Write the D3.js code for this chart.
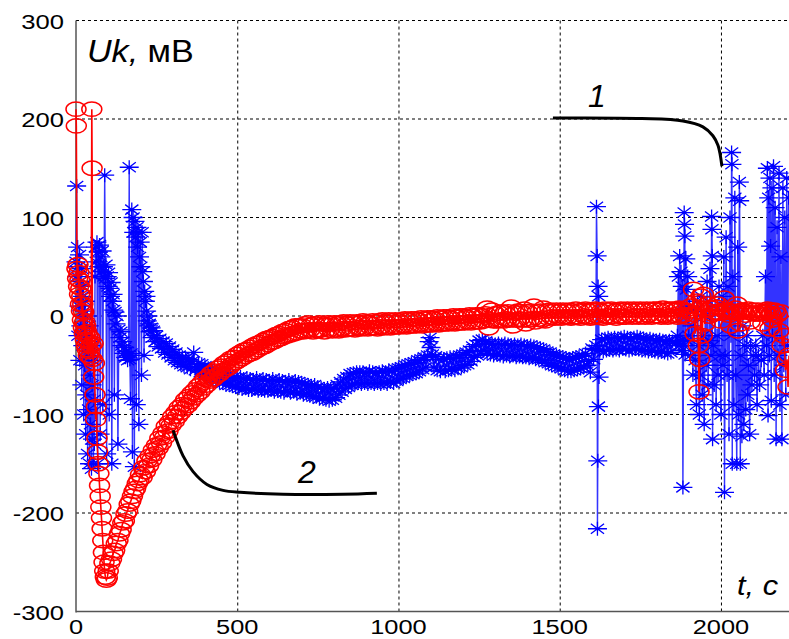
<!DOCTYPE html>
<html>
<head>
<meta charset="utf-8">
<script src="https://cdnjs.cloudflare.com/ajax/libs/d3/7.8.5/d3.min.js"></script>
<style>
  body { margin: 0; background: #fff; }
  svg { display: block; }
</style>
</head>
<body>
<script>
'use strict';

//axis ticks
var xTicks = [0, 500, 1000, 1500, 2000];
var yTicks = [-300, -200, -100, 0, 100, 200, 300];

//series 1 (blue, *) : [t, Uk]
var blueSeries = [
  [0,55],[2,132],[3,40],[5,70],[6,-20],[8,50],[9,10],[11,62],[12,-45],[14,35],[15,-10],[17,48],[18,-70],[20,20],[21,-30],[23,30],[24,-100],[26,5],[27,-50],[29,15],[30,-120],[32,-20],[33,-80],[35,0],[36,-140],[38,-40],[39,-95],[41,-10],[42,-150],[44,-60],[45,-110],[47,-30],[48,-155],[50,-70],[51,-125],[53,-45],[54,-150],[56,-85],[57,-130],
  [59,40],[61,70],[63,55],[65,75],[67,-150],[69,65],[71,50],[73,72],[75,-120],[77,60],[79,45],[81,66],[83,-90],[85,50],[87,40],[89,143],[91,38],[93,52],[95,-140],[97,40],[99,30],[101,44],[103,-100],[105,28],[107,20],[109,34],[111,-150],[113,15],[115,22],[117,6],[119,-80],[121,4],[124,-8],[127,0],[130,-130],[133,-14],[136,-22],[139,-16],[142,-30],[145,-26],[148,-38],[151,-32],[154,-42],[157,-36],[160,-45],[163,-40],
  [165,151],[167,-44],[169,-84],[171,-38],[173,108],[175,-138],[177,100],[179,85],[181,-153],[183,96],[185,80],[187,-90],[189,90],[191,70],[193,85],[195,-110],[197,60],[199,75],[201,50],[203,-60],[205,85],[207,45],[209,35],[211,-40],[213,25],[215,15],[217,20],[219,5],[221,-5],[223,0],[225,-10],[227,-8],[230,-16],[233,-12],[236,-22],
  [240,-15],[245,-26],[250,-20],[255,-31],[260,-23],[265,-33],[270,-26],[275,-37],[280,-28],[285,-39],
  [290,-31],[295,-42],[300,-34],[305,-45],[310,-37],[315,-47],[320,-40],[325,-49],[330,-42],[335,-51],
  [340,-43],[345,-52],[350,-44],[355,-54],[360,-46],[365,-37],[370,-55],[375,-52],[380,-48],[385,-57],
  [390,-49],[395,-59],[400,-51],[405,-60],[410,-53],[415,-62],[420,-54],[425,-64],[430,-56],[435,-65],
  [440,-57],[445,-67],[450,-58],[455,-68],[460,-59],[465,-70],[470,-60],[475,-70],[480,-61],[485,-71],
  [490,-62],[495,-72],[500,-63],[505,-73],[510,-62],[515,-74],[520,-64],[525,-73],[530,-63],[535,-75],
  [540,-64],[545,-75],[550,-65],[555,-74],[560,-63],[565,-76],[570,-65],[575,-75],[580,-64],[585,-76],
  [590,-65],[595,-76],[600,-66],[605,-75],[610,-64],[615,-77],[620,-66],[625,-76],[630,-65],[635,-77],
  [640,-66],[645,-78],[650,-67],[655,-76],[660,-65],[665,-78],[670,-67],[675,-77],[680,-66],[685,-79],
  [690,-67],[695,-78],[700,-68],[705,-80],[710,-69],[715,-79],[720,-70],[725,-81],[730,-71],[735,-82],
  [740,-70],[745,-82],[750,-72],[755,-84],[760,-73],[765,-83],[770,-74],[775,-85],[780,-73],[785,-86],
  [790,-74],[795,-85],[800,-73],[805,-83],[810,-70],[815,-80],[820,-67],[825,-77],[830,-64],[835,-74],
  [840,-62],[845,-72],[850,-59],[855,-70],[860,-58],[865,-69],[870,-57],[875,-68],[880,-57],[885,-69],
  [890,-57],[895,-68],[900,-58],[905,-69],[910,-56],[915,-68],[920,-57],[925,-69],[930,-58],[935,-68],
  [940,-57],[945,-69],[950,-56],[955,-68],[960,-57],[965,-69],[970,-55],[975,-67],[980,-56],[985,-68],
  [990,-54],[995,-66],[1000,-53],[1005,-64],[1010,-52],[1015,-63],[1020,-50],[1025,-61],[1030,-49],[1035,-60],
  [1040,-48],[1045,-59],[1050,-47],[1055,-58],[1060,-45],[1065,-56],[1070,-44],[1075,-54],[1080,-42],[1085,-52],
  [1090,-40],[1095,-26],[1098,-22],[1101,-32],[1105,-39],[1110,-52],[1115,-41],[1120,-55],[1125,-44],[1130,-56],
  [1140,-44],[1145,-56],[1150,-43],[1155,-55],[1160,-42],[1165,-54],[1170,-43],[1175,-55],[1180,-42],[1185,-53],
  [1190,-40],[1195,-52],[1200,-39],[1205,-50],[1210,-37],[1215,-49],[1220,-35],[1225,-46],[1230,-31],[1235,-42],
  [1240,-29],[1245,-40],[1250,-25],[1255,-36],[1260,-24],[1265,-35],[1270,-26],[1275,-38],[1280,-28],[1285,-39],
  [1290,-28],[1295,-40],[1300,-29],[1305,-39],[1310,-28],[1315,-40],[1320,-29],[1325,-41],[1330,-28],[1335,-40],
  [1340,-29],[1345,-41],[1350,-30],[1355,-40],[1360,-29],[1365,-42],[1370,-30],[1375,-41],[1380,-29],[1385,-42],
  [1390,-30],[1395,-42],[1400,-31],[1405,-43],[1410,-30],[1415,-42],[1420,-31],[1425,-44],[1430,-32],[1435,-44],
  [1440,-33],[1445,-45],[1450,-34],[1455,-47],[1460,-36],[1465,-48],[1470,-37],[1475,-50],[1480,-39],[1485,-51],
  [1490,-40],[1495,-52],[1500,-41],[1505,-53],[1510,-42],[1515,-55],[1520,-43],[1525,-56],[1530,-44],[1535,-56],
  [1540,-43],[1545,-55],[1550,-42],[1555,-54],[1560,-41],[1565,-53],[1570,-40],[1575,-52],[1580,-38],[1585,-50],
  [1590,-46],[1595,-57],[1600,-33],[1605,-44],[1610,-34],
  [1612,-30],[1614,111],[1616,61],[1617,-216],[1618,-147],[1619,30],[1620,-92],[1621,20],[1622,-62],[1624,-35],
  [1630,-24],[1635,-36],[1640,-23],[1645,-35],[1650,-22],[1655,-34],[1660,-23],[1665,-35],[1670,-22],[1675,-34],
  [1680,-23],[1685,-35],[1690,-22],[1695,-33],[1700,-21],[1705,-34],[1710,-22],[1715,-35],[1720,-23],[1725,-34],
  [1730,-22],[1735,-33],[1740,-21],[1745,-34],[1750,-22],[1755,-35],[1760,-23],[1765,-35],[1770,-24],[1775,-36],
  [1780,-23],[1785,-35],[1790,-24],[1795,-36],[1800,-25],[1805,-37],[1810,-24],[1815,-36],[1820,-25],[1825,-37],
  [1830,-26],[1835,-38],[1840,-25],[1845,-37],[1850,-26],
  [1860,-28],[1865,-20],[1868,40],[1870,-30],[1872,61],[1874,-25],[1876,45],[1878,-35],[1880,30],[1882,-174],[1884,-30],[1886,105],[1887,93],[1888,81],[1889,-39],[1891,58],[1893,27],[1895,-25],[1897,40],[1900,-20],[1903,10],[1906,-40],[1910,-10],[1913,-60],[1916,5],[1920,-45],[1924,-90],[1927,15],[1930,-30],[1933,-100],[1936,-60],[1939,20],[1942,-80],[1945,-20],[1948,-110],[1951,0],[1954,-50],[1957,35],[1960,-70],[1963,-25],[1966,48],[1969,-40],[1971,101],[1972,88],[1973,61],[1974,-125],[1976,-30],[1979,-70],[1982,10],[1985,-90],[1988,-20],[1991,-60],[1994,30],[1997,-40],[2000,-100],[2003,20],[2006,-50],[2009,60],[2011,-179],[2013,-40],[2016,80],[2019,-60],[2022,30],[2025,-120],[2028,100],[2031,-20],[2033,166],[2034,154],[2035,-150],[2037,40],[2040,-90],[2043,120],[2046,-60],[2049,-150],[2052,70],[2055,-100],[2057,136],[2058,117],[2060,-150],[2062,-40],[2065,-122],[2068,-10],[2071,-110],[2074,-30],[2077,-95],[2080,-20],[2083,-80],[2086,-50],[2089,-120],[2092,-30],[2096,-70],[2100,-40],[2104,-60],[2108,-30],[2112,-90],[2116,-40],[2120,-70],[2125,-45],[2130,-20],[2134,-60],[2138,40],[2141,-30],[2144,150],[2146,-101],[2148,120],[2150,-40],[2152,140],[2154,71],[2156,-86],[2158,130],[2160,-20],[2163,152],[2165,-60],[2168,110],[2171,-125],[2174,90],[2177,-40],[2180,145],[2183,-90],[2186,60],[2189,-125],[2192,130],[2195,-50],[2198,100],[2201,-80],[2204,140],[2207,-30],[2210,120]
];

//series 2 (red, o) : [t, Uk]
var redSeries = [
  [0,210],[1,193],[3,48],[5,38],[6,52],[8,30],[9,44],[11,22],[12,36],[14,12],[15,28],[17,5],[18,20],[20,-4],[21,12],[23,-12],[24,4],[26,-18],[27,-6],[29,-24],[30,-10],[32,-30],[33,-16],[35,-34],[36,-20],[38,-40],[39,-26],[41,-36],[43,-22],[45,-42],[47,-30],[49,210],[50,150],[51,-44],[53,-28],[55,-62],[57,-48],[59,-80],[61,-105],[63,-92],[65,-124],[67,-138],[69,-150],[71,-160],[73,-172],[75,-183],[77,-194],[79,-205],[81,-216],[83,-228],[85,-240],[87,-250],[89,-259],[91,-265],[94,-268],[97,-266],
  [100,-259],[105,-251],[110,-247],[115,-241],[120,-238],[125,-231],[130,-228],[135,-221],[140,-217],[145,-210],[150,-208],[155,-201],[160,-198],[165,-191],[170,-188],[175,-183],[180,-178],[185,-175],[190,-170],[195,-167],
  [200,-161],[205,-164],[210,-154],[215,-158],[220,-147],[225,-152],[230,-142],[235,-146],[240,-136],[245,-140],
  [250,-131],[255,-134],[260,-124],[265,-129],[270,-119],[275,-123],[280,-112],[285,-117],[290,-108],[295,-111],
  [300,-102],[305,-107],[310,-98],[315,-102],[320,-93],[325,-98],[330,-90],[335,-94],[340,-85],[345,-91],
  [350,-82],[355,-87],[360,-78],[365,-83],[370,-75],[375,-80],[380,-71],[385,-77],[390,-68],[395,-73],
  [400,-64],[405,-70],[410,-62],[415,-66],[420,-58],[425,-64],[430,-56],[435,-61],[440,-53],[445,-59],
  [450,-51],[455,-56],[460,-48],[465,-54],[470,-46],[475,-52],[480,-43],[485,-49],[490,-42],[495,-47],
  [500,-39],[505,-45],[510,-37],[515,-43],[520,-35],[525,-41],[530,-34],[535,-39],[540,-32],[545,-38],
  [550,-30],[555,-36],[560,-28],[565,-34],[570,-27],[575,-32],[580,-25],[585,-31],[590,-23],[595,-29],
  [600,-22],[605,-27],[610,-21],[615,-26],[620,-19],[625,-24],[630,-18],[635,-23],[640,-16],[645,-21],
  [650,-15],[655,-20],[660,-13],[665,-19],[670,-12],[675,-18],[680,-10],[685,-17],[690,-10],[695,-15],
  [700,-10],[705,-16],[710,-8],[715,-15],[720,-7],[725,-14],[730,-9],[735,-16],[740,-8],[745,-14],
  [750,-15],[755,-7],[760,-14],[765,-8],[770,-16],[775,-9],[780,-7],[785,-14],[790,-8],[795,-15],
  [800,-7],[805,-14],[810,-8],[815,-15],[820,-7],[825,-13],[830,-6],[835,-14],[840,-8],[845,-13],
  [850,-6],[855,-13],[860,-7],[865,-14],[870,-6],[875,-12],[880,-7],[885,-13],[890,-5],[895,-12],
  [900,-6],[905,-13],[910,-7],[915,-12],[920,-5],[925,-12],[930,-6],[935,-13],[940,-5],[945,-11],
  [950,-4],[955,-12],[960,-6],[965,-11],[970,-4],[975,-12],[980,-5],[985,-11],[990,-4],[995,-11],
  [1000,-5],[1005,-11],[1010,-4],[1015,-10],[1020,-3],[1025,-11],[1030,-4],[1035,-10],[1040,-3],[1045,-10],
  [1050,-3],[1055,-10],[1060,-4],[1065,-9],[1070,-2],[1075,-10],[1080,-3],[1085,-9],[1090,-2],[1095,-9],
  [1100,-2],[1105,-9],[1110,-3],[1115,-8],[1120,-1],[1125,-9],[1130,-2],[1135,-8],[1140,-1],[1145,-8],
  [1150,-1],[1155,-8],[1160,-2],[1165,-7],[1170,0],[1175,-8],[1180,-1],[1185,-7],[1190,0],[1195,-7],
  [1200,0],[1205,-7],[1210,-1],[1215,-6],[1220,1],[1225,-7],[1230,0],[1235,-6],[1240,1],[1245,-6],
  [1250,1],[1255,-6],[1260,0],[1265,-5],[1270,2],[1275,8],[1280,-12],[1285,-4],[1290,6],[1295,-5],
  [1300,2],[1305,-5],[1310,3],[1315,-4],[1320,4],[1325,-5],[1330,3],[1335,-3],[1340,4],[1345,-4],
  [1350,9],[1355,-10],[1360,3],[1365,-4],[1370,5],[1375,-3],[1380,4],[1385,-4],[1390,7],[1395,-8],
  [1400,4],[1405,-4],[1410,5],[1415,-3],[1420,10],[1425,-6],[1430,4],[1435,-3],[1440,5],[1445,-4],
  [1450,8],[1455,-5],[1460,5],[1465,-2],[1470,6],[1475,-1],[1480,5],[1485,-2],[1490,6],[1495,-1],
  [1500,5],[1505,-2],[1510,6],[1515,-1],[1520,5],[1525,-1],[1530,6],[1535,-2],[1540,5],[1545,-1],
  [1550,7],[1555,-1],[1560,5],[1565,-2],[1570,6],[1575,0],[1580,7],[1585,-1],[1590,5],[1595,-2],
  [1600,6],[1605,-1],[1610,7],[1615,0],[1620,6],[1625,-1],[1630,5],[1635,-2],[1640,7],[1645,0],
  [1650,6],[1655,-1],[1660,7],[1665,0],[1670,5],[1675,-2],[1680,6],[1685,0],[1690,7],[1695,-1],
  [1700,6],[1705,-1],[1710,7],[1715,1],[1720,6],[1725,-1],[1730,7],[1735,0],[1740,6],[1745,-1],
  [1750,7],[1755,0],[1760,6],[1765,-1],[1770,7],[1775,1],[1780,6],[1785,-1],[1790,7],[1795,0],
  [1800,7],[1805,0],[1810,6],[1815,-1],[1820,8],[1825,1],[1830,6],[1835,-1],[1840,7],[1845,0],
  [1850,7],[1855,1],[1860,6],[1865,-1],[1870,8],[1875,0],[1880,7],[1885,1],[1890,6],[1895,-1],
  [1900,5],[1905,10],[1910,2],[1915,27],[1920,-18],[1925,15],[1930,-30],[1932,-77],[1934,-44],[1938,20],[1942,-20],[1946,22],[1950,-8],[1955,6],[1960,12],[1965,0],[1970,8],[1975,2],[1980,4],[1985,9],[1990,12],[1995,3],[2000,-5],[2005,6],[2010,18],[2015,4],[2020,6],[2025,1],[2030,-10],[2035,5],[2040,4],[2045,8],[2050,12],[2052,-15],[2055,3],[2060,-8],[2065,6],[2070,5],[2075,1],[2080,4],[2085,7],[2090,-6],[2095,3],[2100,6],[2105,2],[2110,3],[2115,6],[2120,2],[2125,4],[2130,-8],[2135,3],[2140,4],[2145,7],[2150,6],[2152,-13],[2155,2],[2160,-4],[2165,6],[2170,5],[2175,1],[2180,-15],[2185,4],[2190,-30],[2195,-20],[2200,-55],[2205,-44],[2208,-72],[2211,-40]
];

//callout curves [t, Uk]
var callout1 = [[1479,201],[1755,200.5],[1882,198],[1944,192],[1975,183],[1991,173],[2003,152]];
var callout2 = [[301,-116],[332,-142],[363,-158],[406,-171],[456,-177],[509,-179],[642,-181],[828,-181],[933,-180]];

//general setup
var width = 789, height = 639;
var svg = d3.select('body').append('svg').attr('width', width).attr('height', height);

//scales
var xScale = d3.scaleLinear().domain([0, 2211]).range([76, 789]);
var yScale = d3.scaleLinear().domain([-300, 300]).range([611.5, 20.5]);

//grid
var grid = svg.append('g').attr('stroke', '#000').attr('stroke-width', 1).attr('stroke-dasharray', '3,3');
grid.selectAll('.vg').data(xTicks.filter(function (d) { return d > 0; })).enter().append('line')
  .attr('x1', function (d) { return xScale(d) + 0.5; }).attr('x2', function (d) { return xScale(d) + 0.5; })
  .attr('y1', yScale(300)).attr('y2', yScale(-300));
grid.selectAll('.hg').data(yTicks.filter(function (d) { return d > -300; })).enter().append('line')
  .attr('x1', xScale(0)).attr('x2', width)
  .attr('y1', function (d) { return yScale(d); }).attr('y2', function (d) { return yScale(d); });

//axes
svg.append('line').attr('x1', 76).attr('x2', 76).attr('y1', yScale(300)).attr('y2', yScale(-300) + 1)
  .attr('stroke', '#555').attr('stroke-width', 1.5);
svg.append('line').attr('x1', 76).attr('x2', width).attr('y1', yScale(-300)).attr('y2', yScale(-300))
  .attr('stroke', '#555').attr('stroke-width', 1.5);

var line = d3.line().x(function (d) { return xScale(d[0]); }).y(function (d) { return yScale(d[1]); });

//series 1
svg.append('path').datum(blueSeries).attr('d', line).attr('fill', 'none')
  .attr('stroke', '#3333ff').attr('stroke-width', 1.4);
var star = 'M-9.5,0H9.5M0,-7V7M-6.6,-5L6.6,5M-6.6,5L6.6,-5';
svg.append('g').selectAll('path').data(blueSeries).enter().append('path')
  .attr('d', star)
  .attr('transform', function (d) { return 'translate(' + xScale(d[0]) + ',' + yScale(d[1]) + ')'; })
  .attr('fill', 'none').attr('stroke', '#0000ff').attr('stroke-width', 1.3);

//series 2
svg.append('path').datum(redSeries).attr('d', line).attr('fill', 'none')
  .attr('stroke', '#ff0000').attr('stroke-width', 1.6);
svg.append('g').selectAll('ellipse').data(redSeries).enter().append('ellipse')
  .attr('cx', function (d) { return xScale(d[0]); })
  .attr('cy', function (d) { return yScale(d[1]); })
  .attr('rx', 10).attr('ry', 7.2)
  .attr('fill', 'none').attr('stroke', '#ff0000').attr('stroke-width', 1.5);

//callouts
var curve = d3.line().x(function (d) { return xScale(d[0]); }).y(function (d) { return yScale(d[1]); })
  .curve(d3.curveCatmullRom);
[callout1, callout2].forEach(function (c) {
  svg.append('path').datum(c).attr('d', curve).attr('fill', 'none')
    .attr('stroke', '#000').attr('stroke-width', 3);
});

function label(x, y, str, size, anchor, italic, sx) {
  return svg.append('text')
    .attr('transform', 'translate(' + x + ',' + y + ') scale(' + sx + ',1)')
    .attr('text-anchor', anchor)
    .style('font-family', '"Liberation Sans", Arial, sans-serif')
    .style('font-size', size + 'px')
    .style('font-style', italic ? 'italic' : 'normal')
    .attr('fill', '#000')
    .text(str);
}

//tick labels
yTicks.forEach(function (d) { label(64, yScale(d) + 8, d, 21, 'end', false, 1.22); });
xTicks.forEach(function (d) { label(xScale(d), 634, d, 20.5, 'middle', false, 1.24); });

//axis titles
var uk = label(87, 62, '', 31, 'start', false, 1.1);
uk.append('tspan').style('font-style', 'italic').text('Uk,');
uk.append('tspan').text(' мВ');
label(737, 595, 't, c', 28, 'start', true, 1.1);

//curve numbers
label(597, 107, '1', 32, 'middle', true, 1);
label(307, 483, '2', 32, 'middle', true, 1);
</script>
</body>
</html>
